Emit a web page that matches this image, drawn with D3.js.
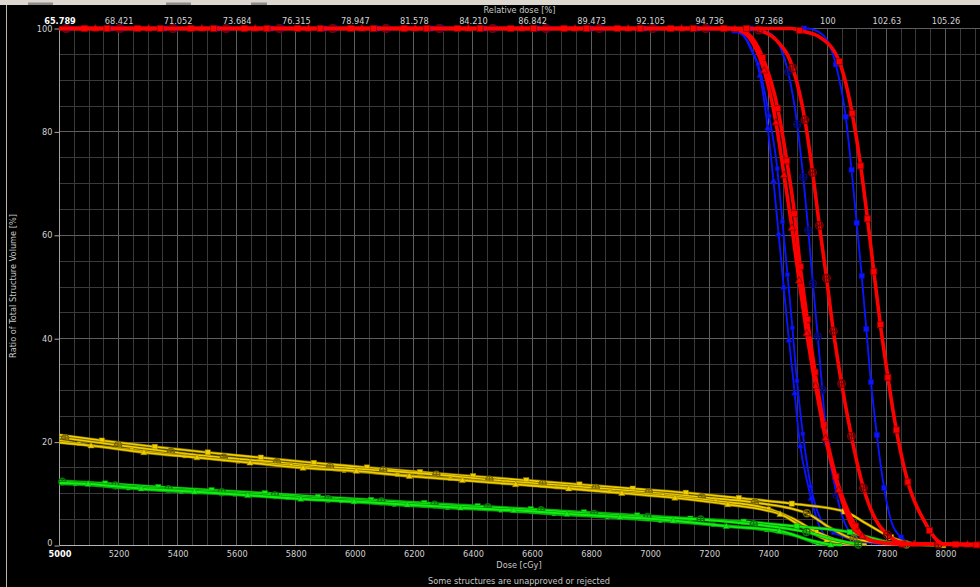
<!DOCTYPE html>
<html><head><meta charset="utf-8">
<script src="https://cdn.jsdelivr.net/npm/d3@7"></script>
<style>html,body{margin:0;padding:0;background:#000;overflow:hidden}svg{display:block}</style>
</head><body>
<svg id="c" width="980" height="587"></svg>
<script>
// ---------- data ----------
const doseTicks = [5000,5200,5400,5600,5800,6000,6200,6400,6600,6800,7000,7200,7400,7600,7800,8000];
const relDoseLabels = ["65.789","68.421","71.052","73.684","76.315","78.947","81.578","84.210","86.842","89.473","92.105","94.736","97.368","100","102.63","105.26"];
const volTicks = [0,20,40,60,80,100];

// curves: [dose cGy, volume %]
const ptvBlueTri = [[5000,100],[7240,100],[7300,99.2],[7340,96.5],[7372,90.9],[7398,80.8],[7417,70.8],[7434,60.8],[7451,50.7],[7468,40.8],[7487,30.8],[7505,20.6],[7538,10.8],[7575,3.5],[7615,1.0],[7700,0.2]];
const ptvBlueSmallSq = [[5000,100],[7250,100],[7310,99.0],[7345,95.5],[7366,93.0],[7403,83.0],[7430,73.1],[7447,63.1],[7464,53.0],[7480,43.1],[7495,33.1],[7514,23.0],[7539,13.0],[7596,3.5],[7665,1.5],[7780,0.3]];
const ptvBlueCircle = [[5000,100],[7330,100],[7400,99.2],[7440,96.5],[7468,91.4],[7498,81.4],[7518,71.4],[7535,61.3],[7550,51.3],[7566,41.4],[7581,31.4],[7596,21.5],[7626,11.3],[7660,4.2],[7700,1.6],[7810,0.3]];
const ptvBlueSq = [[5000,100],[7530,100],[7580,99.0],[7610,96.5],[7628,93.2],[7662,83.0],[7681,73.2],[7698,63.1],[7715,53.0],[7730,43.1],[7745,33.1],[7764,23.1],[7787,13.0],[7827,3.2],[7880,0.6],[7960,0.1]];

const ptvRedSqA = [[5000,100],[7280,100],[7320,99.4],[7350,97.8],[7383,94.1],[7432,84.5],[7462,74.6],[7488,64.5],[7507,54.5],[7530,44.6],[7555,34.7],[7584,24.7],[7622,14.8],[7682,5.2],[7745,1.0],[7850,0.3],[8120,0.2]];
const ptvRedTri = [[5000,100],[7270,100],[7315,99.3],[7350,97.0],[7389,91.3],[7426,81.8],[7453,71.8],[7479,61.9],[7503,51.8],[7528,41.9],[7557,31.9],[7590,21.8],[7640,10.5],[7700,2.5],[7800,0.4],[8120,0.2]];
const ptvRedCircle = [[5000,100],[7340,100],[7378,99.5],[7428,97.7],[7485,92.0],[7524,82.3],[7550,72.2],[7572,62.3],[7596,52.2],[7618,42.4],[7645,32.4],[7677,22.4],[7715,12.6],[7782,3.4],[7869,0.3],[8120,0.2]];
const ptvRedSqB = [[5000,100],[7480,100],[7513,99.5],[7575,98.3],[7641,93.5],[7684,83.6],[7712,73.7],[7735,63.6],[7756,53.6],[7777,43.8],[7802,33.7],[7829,23.8],[7865,13.9],[7930,4.5],[7993,0.3],[8120,0.1]];

const oarYellowSq = [[5000,21.4],[5143,20.3],[5321,19.1],[5502,18.0],[5682,17.0],[5859,16.0],[6040,15.1],[6221,14.2],[6401,13.4],[6582,12.6],[6762,11.8],[6941,11.0],[7121,10.2],[7298,9.2],[7479,8.1],[7657,6.6],[7733,4.2],[7815,1.6],[7900,0.3],[7993,0.05]];
const oarYellowCircle = [[5000,20.9],[5199,19.4],[5380,18.1],[5557,17.0],[5739,16.1],[5916,15.2],[6096,14.5],[6277,13.7],[6458,12.7],[6638,11.9],[6819,11.1],[6997,10.3],[7178,9.3],[7355,8.3],[7532,6.2],[7610,3.4],[7688,1.3],[7869,0.2],[8000,0.05]];
const oarYellowSmallSq = [[5000,20.3],[5064,19.7],[5244,18.5],[5425,17.3],[5603,16.3],[5784,15.5],[5961,14.5],[6145,13.7],[6322,12.9],[6503,12.1],[6684,11.3],[6862,10.5],[7042,9.7],[7223,8.6],[7400,7.1],[7480,5.3],[7558,2.8],[7650,0.8],[7733,0.2]];
const oarYellowTri = [[5000,19.9],[5109,19.3],[5287,18.0],[5468,17.0],[5645,16.0],[5826,15.0],[6006,14.4],[6187,13.4],[6367,12.6],[6548,11.8],[6726,11.0],[6907,10.1],[7087,9.2],[7268,7.9],[7443,6.0],[7520,3.4],[7598,1.1],[7700,0.1]];

const oarGreenSq = [[5000,12.5],[5154,12.0],[5335,11.3],[5515,10.7],[5696,10.1],[5876,9.4],[6057,8.8],[6238,8.2],[6418,7.6],[6599,7.0],[6779,6.4],[6960,5.8],[7137,5.2],[7319,4.6],[7496,3.7],[7674,2.6],[7740,1.6],[7801,0.7],[7880,0.1]];
const oarGreenCircle = [[5000,12.4],[5188,11.6],[5368,10.9],[5549,10.3],[5730,9.7],[5910,9.0],[6091,8.5],[6271,7.9],[6452,7.4],[6633,6.8],[6813,6.1],[6992,5.5],[7178,5.0],[7353,4.1],[7530,2.6],[7620,1.2],[7705,0.2]];
const oarGreenSmallSq = [[5000,12.0],[5052,11.9],[5233,11.1],[5414,10.4],[5594,9.9],[5775,9.2],[5956,8.6],[6136,7.9],[6317,7.3],[6497,6.8],[6675,6.1],[6856,5.5],[7037,4.8],[7217,4.0],[7395,3.0],[7500,1.8],[7569,0.4],[7650,0.1]];
const oarGreenTri = [[5000,12.1],[5098,11.9],[5278,11.0],[5459,10.4],[5639,9.7],[5820,9.0],[6001,8.5],[6181,7.9],[6359,7.3],[6540,6.8],[6721,6.1],[6901,5.5],[7082,4.8],[7261,3.7],[7440,2.8],[7530,1.2],[7615,0.1]];

// one marker position read per curve (dose, volume)
const markerAnchors = {
  ptvBlueTri:[7398,80.8], ptvBlueSmallSq:[7403,83.0], ptvBlueCircle:[7498,81.4], ptvBlueSq:[7662,83.0],
  ptvRedSqA:[7432,84.5], ptvRedTri:[7426,81.8], ptvRedCircle:[7524,82.3], ptvRedSqB:[7684,83.6],
  oarYellowSq:[5321,19.1], oarYellowCircle:[5199,19.4], oarYellowSmallSq:[5244,18.5], oarYellowTri:[5287,18.0],
  oarGreenSq:[5335,11.3], oarGreenCircle:[5188,11.6], oarGreenSmallSq:[5233,11.1], oarGreenTri:[5278,11.0]
};

// ---------- styles ----------
const BLUE = "#0a14ff", RED = "#ff0000", YELLOW = "#f2cf00", GREEN = "#12f012";
const series = [
  {name:"ptvBlueTri", data:ptvBlueTri, color:BLUE, w:1.9, mk:"tri"},
  {name:"ptvBlueSmallSq", data:ptvBlueSmallSq, color:BLUE, w:1.9, mk:"ssq"},
  {name:"ptvBlueCircle", data:ptvBlueCircle, color:BLUE, w:1.9, mk:"circ"},
  {name:"ptvBlueSq", data:ptvBlueSq, color:BLUE, w:1.9, mk:"sq"},
  {name:"oarYellowSq", data:oarYellowSq, color:YELLOW, w:1.6, mk:"sq", outline:true},
  {name:"oarYellowCircle", data:oarYellowCircle, color:YELLOW, w:1.6, mk:"circ", outline:true},
  {name:"oarYellowSmallSq", data:oarYellowSmallSq, color:YELLOW, w:1.6, mk:"ssq", outline:true},
  {name:"oarYellowTri", data:oarYellowTri, color:YELLOW, w:1.6, mk:"tri", outline:true},
  {name:"oarGreenSq", data:oarGreenSq, color:GREEN, w:2.0, mk:"sq", outline:true},
  {name:"oarGreenCircle", data:oarGreenCircle, color:GREEN, w:2.0, mk:"circ", outline:true},
  {name:"oarGreenSmallSq", data:oarGreenSmallSq, color:GREEN, w:2.0, mk:"ssq", outline:true},
  {name:"oarGreenTri", data:oarGreenTri, color:GREEN, w:2.0, mk:"tri", outline:true},
  {name:"ptvRedSqA", data:ptvRedSqA, color:RED, w:3.6, mk:"sq", big:true},
  {name:"ptvRedTri", data:ptvRedTri, color:RED, w:3.6, mk:"tri", big:true},
  {name:"ptvRedCircle", data:ptvRedCircle, color:RED, w:3.6, mk:"circ", big:true},
  {name:"ptvRedSqB", data:ptvRedSqB, color:RED, w:3.6, mk:"sq", big:true}
];

const W = 980, H = 587;
const svg = d3.select("#c");
const FONT = "'DejaVu Sans', Verdana, sans-serif";
const FS = 8.2;

const x = d3.scaleLinear().domain([5000, 8000]).range([59.5, 945.5]);
const y = d3.scaleLinear().domain([0, 100]).range([545.5, 28.5]);
const xMax = x.invert(W);

// background
svg.append("rect").attr("width", W).attr("height", H).attr("fill", "#000");
// window chrome strip at top
svg.append("rect").attr("x",0).attr("y",0).attr("width",W).attr("height",5).attr("fill","#dcd8d0");
[[28,25],[166,25],[251,16]].forEach(([a,b])=>svg.append("rect").attr("x",a).attr("y",2.5).attr("width",b).attr("height",2.5).attr("fill","#8c8c8c"));
svg.append("line").attr("x1",6.5).attr("x2",6.5).attr("y1",5).attr("y2",H).attr("stroke","#bdb59c").attr("stroke-width",1);

const g = svg.append("g");

// grid
const minorX = d3.range(5050, xMax, 50).filter(d => d % 200 !== 0);
const majorX = d3.range(5200, xMax, 200);
const minorY = d3.range(5, 100, 5).filter(d => d % 20 !== 0);
const majorY = [20, 40, 60, 80, 100];
const snap = v => Math.round(v - 0.5) + 0.5;
g.selectAll(".vmin").data(minorX).join("line")
  .attr("x1", d => snap(x(d))).attr("x2", d => snap(x(d))).attr("y1", y(100)).attr("y2", y(0))
  .attr("stroke", "#3a3a3a").attr("stroke-width", 1);
g.selectAll(".hmin").data(minorY).join("line")
  .attr("x1", x(5000)).attr("x2", W).attr("y1", d => snap(y(d))).attr("y2", d => snap(y(d)))
  .attr("stroke", "#3a3a3a").attr("stroke-width", 1);
g.selectAll(".vmaj").data(majorX).join("line")
  .attr("x1", d => snap(x(d))).attr("x2", d => snap(x(d))).attr("y1", y(100)).attr("y2", y(0))
  .attr("stroke", "#5e5e5e").attr("stroke-width", 1);
g.selectAll(".hmaj").data(majorY).join("line")
  .attr("x1", x(5000)).attr("x2", W).attr("y1", d => snap(y(d))).attr("y2", d => snap(y(d)))
  .attr("stroke", "#5e5e5e").attr("stroke-width", 1);

// axes
const axB = g.append("g").attr("transform", `translate(0,${y(0)})`)
  .call(d3.axisBottom(x).tickValues(doseTicks).tickSize(0).tickPadding(5.5).tickFormat(d3.format("d")));
const axT = g.append("g").attr("transform", `translate(0,${y(100)})`)
  .call(d3.axisTop(x).tickValues(doseTicks).tickSize(0).tickPadding(5).tickFormat((d, i) => relDoseLabels[i]));
const axL = g.append("g").attr("transform", `translate(${x(5000)},0)`)
  .call(d3.axisLeft(y).tickValues(volTicks).tickSize(5).tickPadding(2));
[axB, axT, axL].forEach(a => {
  a.selectAll("text").attr("font-family", FONT).attr("font-size", FS).attr("fill", "#d2d2d2");
  a.selectAll(".tick line").attr("stroke", "#a8a8a8");
});
axL.selectAll(".tick").filter(d => d === 0).select("text").attr("dy", "0.05em");
axT.select(".domain").remove();
axB.select(".domain").attr("stroke", "#b4b4b4").attr("d", `M${x(5000)},0H${W}`);
axL.select(".domain").attr("stroke", "#a0a0a0").attr("d", `M0,${y(100)}V${y(0)}`);
axB.selectAll(".tick").filter(d => d === 5000).select("text").attr("font-weight", "bold").attr("fill", "#ffffff");
axT.selectAll(".tick").filter(d => d === 5000).select("text").attr("font-weight", "bold").attr("fill", "#ffffff");

// axis titles
svg.append("text").attr("x", 519.5).attr("y", 12.6).attr("text-anchor", "middle")
  .attr("font-family", FONT).attr("font-size", FS).attr("fill", "#c8c8c8").text("Relative dose [%]");
svg.append("text").attr("x", 519).attr("y", 568).attr("text-anchor", "middle")
  .attr("font-family", FONT).attr("font-size", FS).attr("fill", "#c8c8c8").text("Dose [cGy]");
svg.append("text").attr("transform", "translate(16,286) rotate(-90)").attr("text-anchor", "middle")
  .attr("font-family", FONT).attr("font-size", FS).attr("fill", "#c8c8c8").text("Ratio of Total Structure Volume [%]");
svg.append("text").attr("x", 519).attr("y", 584).attr("text-anchor", "middle")
  .attr("font-family", FONT).attr("font-size", FS).attr("fill", "#c8c8c8").text("Some structures are unapproved or rejected");

// curves
const line = d3.line().x(d => x(d[0])).y(d => y(d[1])).curve(d3.curveMonotoneX);
const plot = svg.append("g");

function drawMarker(sel, p, s) {
  const c = d3.color(s.color);
  const dark = c.darker(s.big ? 1.6 : 1.2).formatHex();
  if (s.mk === "circ") {
    const r = s.big ? 3.8 : 3.5;
    const darker = c.darker(2.0).formatHex();
    sel.append("circle").attr("cx", p.x).attr("cy", p.y).attr("r", r)
      .attr("fill", "none").attr("stroke", darker).attr("stroke-width", 1.4);
    sel.append("path").attr("d", `M${p.x - r},${p.y}H${p.x + r}M${p.x},${p.y - r}V${p.y + r}`)
      .attr("stroke", darker).attr("stroke-width", 1.2);
  } else if (s.mk === "sq" || s.mk === "ssq") {
    const a = s.mk === "sq" ? (s.big ? 6 : 5.2) : 3.8;
    sel.append("rect").attr("x", p.x - a / 2).attr("y", p.y - a / 2).attr("width", a).attr("height", a)
      .attr("fill", s.color).attr("stroke", dark).attr("stroke-width", s.big ? 0.9 : 0.5);
  } else if (s.mk === "tri") {
    const a = s.big ? 7.2 : 6.4;
    const h = a * 0.9;
    sel.append("path").attr("d", `M${p.x},${p.y - h * 0.6}L${p.x + a / 2},${p.y + h * 0.4}L${p.x - a / 2},${p.y + h * 0.4}Z`)
      .attr("fill", s.color).attr("stroke", dark).attr("stroke-width", s.big ? 0.9 : 0.5);
  }
}

const SPACING = 53.3;
series.forEach(s => {
  const gg = plot.append("g");
  if (s.outline) {
    gg.append("path").attr("d", line(s.data)).attr("fill", "none")
      .attr("stroke", d3.color(s.color).darker(1.4).formatHex()).attr("stroke-width", s.w + 1.4).attr("opacity", 0.85);
  }
  const path = gg.append("path").attr("d", line(s.data)).attr("fill", "none")
    .attr("stroke", s.color).attr("stroke-width", s.w).attr("stroke-linejoin", "round");
  const node = path.node();
  const L = node.getTotalLength();
  const an = markerAnchors[s.name];
  const ax = x(an[0]), ay = y(an[1]);
  let best = 0, bd = Infinity;
  for (let l = 0; l <= L; l += 1) {
    const p = node.getPointAtLength(l);
    const d = (p.x - ax) ** 2 + (p.y - ay) ** 2;
    if (d < bd) { bd = d; best = l; }
  }
  const start = best % SPACING;
  for (let l = start; l <= L; l += SPACING) {
    const p = node.getPointAtLength(l);
    if (p.x > W + 5) break;
    drawMarker(gg, p, s);
  }
});
</script>
</body></html>
